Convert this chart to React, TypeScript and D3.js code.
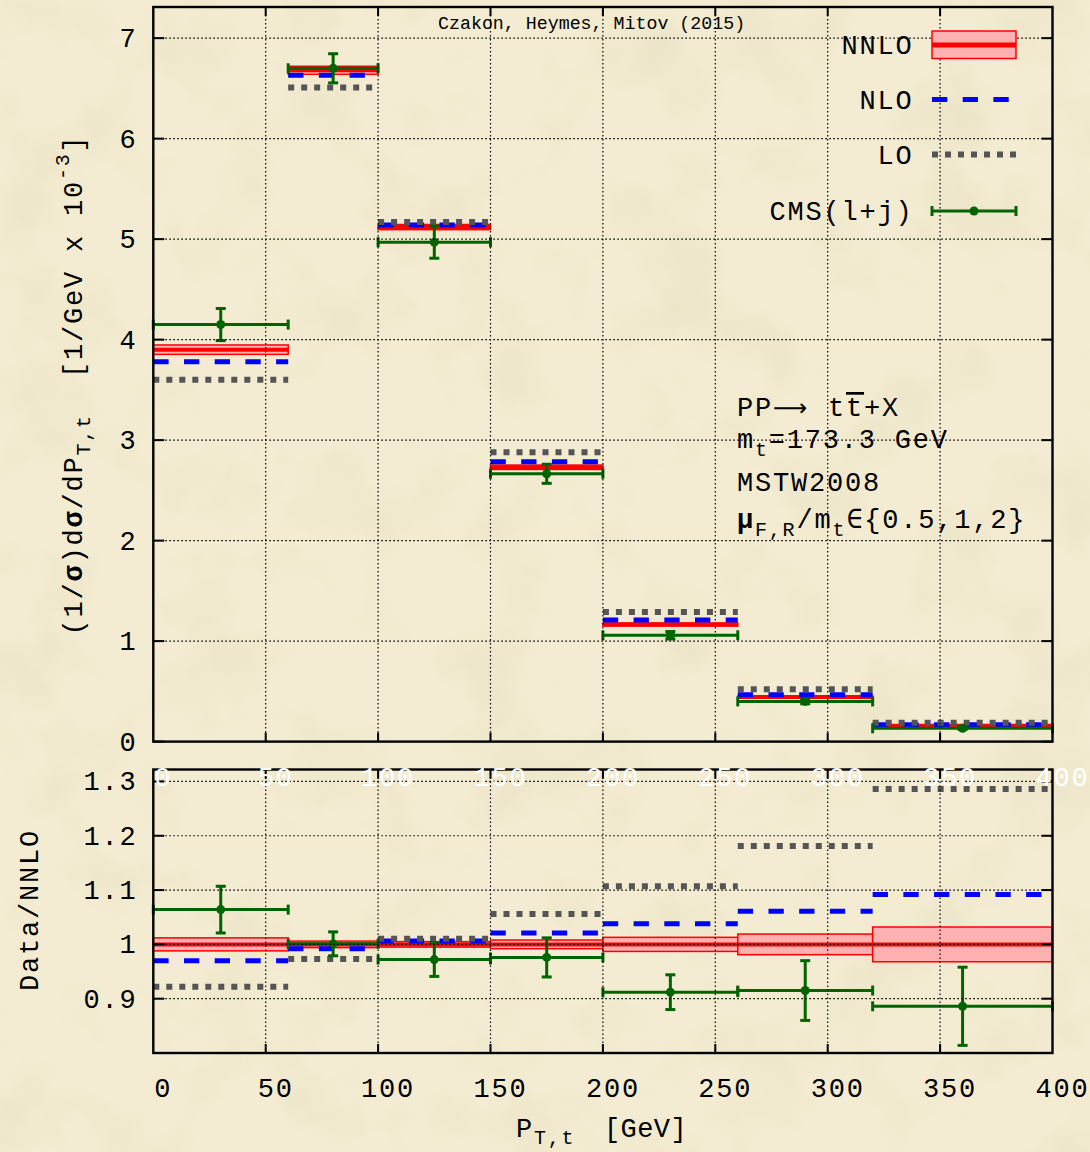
import React from "react";
import * as d3 from "d3";

// Bin edges of the top-quark transverse momentum distribution (GeV)
const binEdges = [0, 60, 100, 150, 200, 260, 320, 400];

// Normalised differential cross sections, in units of 1e-3 / GeV
const nnlo = [3.9, 6.68, 5.12, 2.73, 1.165, 0.445, 0.158];
const nlo = [3.78, 6.63, 5.14, 2.785, 1.21, 0.465, 0.168];
const lo = [3.6, 6.51, 5.17, 2.88, 1.29, 0.52, 0.188];
const cms = [4.15, 6.7, 4.97, 2.665, 1.058, 0.4, 0.132];
const cmsErr = [0.16, 0.145, 0.16, 0.095, 0.037, 0.024, 0.011];

// Relative scale uncertainty of the NNLO prediction
const nnloRelErr = [0.012, 0.006, 0.005, 0.008, 0.013, 0.019, 0.032];

// Ratios to NNLO
const nloRatio = [0.97, 0.992, 1.006, 1.021, 1.038, 1.061, 1.092];
const loRatio = [0.922, 0.973, 1.0105, 1.056, 1.107, 1.181, 1.286];
const cmsRatio = [1.064, 1.001, 0.972, 0.976, 0.912, 0.915, 0.886];
const cmsRatioErr = [0.043, 0.022, 0.031, 0.036, 0.032, 0.055, 0.072];

// Axis ticks
const xTicks = [0, 50, 100, 150, 200, 250, 300, 350, 400];
const yTicksTop = [0, 1, 2, 3, 4, 5, 6, 7];
const yTicksBottom = [0.9, 1.0, 1.1, 1.2, 1.3];
const yTickLabelsBottom = ["0.9", "1", "1.1", "1.2", "1.3"];

const legendLabels = ["NNLO", "NLO", "LO", "CMS(l+j)"];

const FONT = "'Liberation Mono', 'Courier New', monospace";
const RED = "#ff0000";
const PINK = "#ffb0b0";
const BLUE = "#0000ff";
const GREY = "#555555";
const GREEN = "#006400";
const BG = "#f3ecd2";

// main text style: 27px monospace spaced out to an 18px advance
const FS = 27;
const LS = 1.8;
const SUB = 20;

export default function App() {
  const W = 1090;
  const H = 1152;
  const x = d3.scaleLinear().domain([0, 400]).range([153.3, 1052.5]);
  const yT = d3.scaleLinear().domain([0, 7.31]).range([741.6, 7]);
  const yB = d3.scaleLinear().domain([0.8, 1.322]).range([1053, 769.5]);

  const bins = d3.range(nnlo.length).map((i) => ({
    i,
    x0: binEdges[i],
    x1: binEdges[i + 1],
    mid: (binEdges[i] + binEdges[i + 1]) / 2,
  }));

  const L = x(0);
  const R = x(400);

  const grid = (yScale: d3.ScaleLinear<number, number>, yTicks: number[]) => {
    const [yBottom, yTop] = yScale.range();
    return (
      <g stroke="#000" strokeWidth={1.2} strokeDasharray="1.6 2.4" fill="none">
        {xTicks.slice(1, -1).map((t) => (
          <line key={"gx" + t} x1={x(t)} x2={x(t)} y1={yTop} y2={yBottom} />
        ))}
        {yTicks.map((t) => (
          <line key={"gy" + t} x1={L} x2={R} y1={yScale(t)} y2={yScale(t)} />
        ))}
      </g>
    );
  };

  const frame = (yScale: d3.ScaleLinear<number, number>, yTicks: number[]) => {
    const [yBottom, yTop] = yScale.range();
    return (
      <g stroke="#000" strokeWidth={2} fill="none">
        {xTicks.slice(1, -1).map((t) => (
          <g key={"tx" + t}>
            <line x1={x(t)} x2={x(t)} y1={yBottom} y2={yBottom - 9} />
            <line x1={x(t)} x2={x(t)} y1={yTop} y2={yTop + 9} />
          </g>
        ))}
        {yTicks.map((t) => (
          <g key={"ty" + t}>
            <line x1={L} x2={L + 11} y1={yScale(t)} y2={yScale(t)} />
            <line x1={R} x2={R - 11} y1={yScale(t)} y2={yScale(t)} />
          </g>
        ))}
        <rect x={L} y={yTop} width={R - L} height={yBottom - yTop} strokeWidth={2.4} />
      </g>
    );
  };

  const errBar = (
    key: string,
    cx: number,
    cy: number,
    x0: number,
    x1: number,
    yLo: number,
    yHi: number
  ) => (
    <g key={key} stroke={GREEN} strokeWidth={3} fill={GREEN}>
      <line x1={x0} x2={x1} y1={cy} y2={cy} />
      <line x1={x0} x2={x0} y1={cy - 5} y2={cy + 5} />
      <line x1={x1} x2={x1} y1={cy - 5} y2={cy + 5} />
      <line x1={cx} x2={cx} y1={yLo} y2={yHi} />
      <line x1={cx - 5} x2={cx + 5} y1={yLo} y2={yLo} />
      <line x1={cx - 5} x2={cx + 5} y1={yHi} y2={yHi} />
      <circle cx={cx} cy={cy} r={4.5} stroke="none" />
    </g>
  );

  const legendRows = [45, 99.5, 154.5, 211];
  const lx0 = 932;
  const lx1 = 1016;

  return (
    <svg
      width={W}
      height={H}
      viewBox={`0 0 ${W} ${H}`}
      style={{ position: "absolute", left: 0, top: 0, display: "block" }}
      fontFamily={FONT}
    >
      <defs>
        <filter id="paper" x="0" y="0" width="100%" height="100%">
          <feTurbulence type="fractalNoise" baseFrequency="0.011" numOctaves={4} seed={7} />
          <feColorMatrix
            type="matrix"
            values="0 0 0 0 0.62  0 0 0 0 0.52  0 0 0 0 0.3  1.6 0 0 0 -0.78"
          />
        </filter>
      </defs>
      <rect x={0} y={0} width={W} height={H} fill={BG} />
      <rect x={0} y={0} width={W} height={H} filter="url(#paper)" opacity={0.25} />

      {/* ---------- upper panel ---------- */}
      <g>
        {bins.map((b) => {
          const v = nnlo[b.i];
          const e = v * nnloRelErr[b.i];
          return (
            <g key={"nnloT" + b.i}>
              <rect
                x={x(b.x0)}
                y={yT(v + e)}
                width={x(b.x1) - x(b.x0)}
                height={yT(v - e) - yT(v + e)}
                fill={PINK}
                stroke={RED}
                strokeWidth={1.5}
              />
              <line x1={x(b.x0)} x2={x(b.x1)} y1={yT(v)} y2={yT(v)} stroke={RED} strokeWidth={4} />
            </g>
          );
        })}
        {bins.map((b) => (
          <line
            key={"nloT" + b.i}
            x1={x(b.x0)}
            x2={x(b.x1)}
            y1={yT(nlo[b.i])}
            y2={yT(nlo[b.i])}
            stroke={BLUE}
            strokeWidth={5}
            strokeDasharray="15.3 15.4"
          />
        ))}
        {bins.map((b) => (
          <line
            key={"loT" + b.i}
            x1={x(b.x0)}
            x2={x(b.x1)}
            y1={yT(lo[b.i])}
            y2={yT(lo[b.i])}
            stroke={GREY}
            strokeWidth={6}
            strokeDasharray="6 7"
          />
        ))}
        {bins.map((b) =>
          errBar(
            "cmsT" + b.i,
            x(b.mid),
            yT(cms[b.i]),
            x(b.x0),
            x(b.x1),
            yT(cms[b.i] - cmsErr[b.i]),
            yT(cms[b.i] + cmsErr[b.i])
          )
        )}
        {grid(yT, yTicksTop.slice(1))}
        {frame(yT, yTicksTop)}
        {yTicksTop.map((t) => (
          <text
            key={"ylT" + t}
            x={137.5}
            y={yT(t) + 9}
            fontSize={FS}
            letterSpacing={LS}
            textAnchor="end"
            fill="#000"
          >
            {t}
          </text>
        ))}
        <text x={438} y={29} fontSize={18.3} fill="#000">
          Czakon, Heymes, Mitov (2015)
        </text>

        {/* legend */}
        {legendLabels.map((lab, k) => (
          <text
            key={"lg" + k}
            x={913.5}
            y={legendRows[k] + 9}
            fontSize={FS}
            letterSpacing={LS}
            textAnchor="end"
            fill="#000"
          >
            {lab}
          </text>
        ))}
        <rect x={lx0} y={31} width={lx1 - lx0} height={27.5} fill={PINK} stroke={RED} strokeWidth={1.5} />
        <line x1={lx0} x2={lx1} y1={legendRows[0]} y2={legendRows[0]} stroke={RED} strokeWidth={5} />
        <line
          x1={lx0}
          x2={lx1}
          y1={legendRows[1]}
          y2={legendRows[1]}
          stroke={BLUE}
          strokeWidth={5}
          strokeDasharray="15.3 15.4"
        />
        <line
          x1={lx0}
          x2={lx1}
          y1={legendRows[2]}
          y2={legendRows[2]}
          stroke={GREY}
          strokeWidth={6}
          strokeDasharray="6 7"
        />
        <g stroke={GREEN} strokeWidth={3} fill={GREEN}>
          <line x1={lx0} x2={lx1} y1={legendRows[3]} y2={legendRows[3]} />
          <line x1={lx0} x2={lx0} y1={legendRows[3] - 5} y2={legendRows[3] + 5} />
          <line x1={lx1} x2={lx1} y1={legendRows[3] - 5} y2={legendRows[3] + 5} />
          <circle cx={(lx0 + lx1) / 2} cy={legendRows[3]} r={4.5} stroke="none" />
        </g>

        {/* process description */}
        <g fontSize={FS} letterSpacing={LS} fill="#000">
          <text x={737} y={416}>
            PP
            <tspan fontFamily="'DejaVu Sans', sans-serif" fontSize={24} letterSpacing={0}>
              ⟶
            </tspan>
            <tspan x={828}>t</tspan>
            <tspan style={{ textDecoration: "overline" }}>t</tspan>+X
          </text>
          <text x={737} y={448}>
            m<tspan fontSize={SUB} dy={8}>t</tspan>
            <tspan dy={-8}>=173.3 GeV</tspan>
          </text>
          <text x={737} y={491}>
            MSTW2008
          </text>
          <text x={737} y={528}>
            <tspan fontWeight="bold">μ</tspan>
            <tspan fontSize={SUB} dy={8}>F,R</tspan>
            <tspan dy={-8}>/m</tspan>
            <tspan fontSize={SUB} dy={8}>t</tspan>
            <tspan dy={-8}>∈{"{"}0.5,1,2{"}"}</tspan>
          </text>
        </g>

        {/* y-axis title */}
        <text
          transform="translate(82,385) rotate(-90)"
          fontSize={FS}
          letterSpacing={LS}
          textAnchor="middle"
          fill="#000"
        >
          (1/<tspan fontWeight="bold">σ</tspan>)d<tspan fontWeight="bold">σ</tspan>/dP
          <tspan fontSize={SUB} dy={8}>T,t</tspan>
          <tspan dy={-8} xmlSpace="preserve">{"  [1/GeV x 10"}</tspan>
          <tspan fontSize={SUB} dy={-13}>-3</tspan>
          <tspan dy={13}>]</tspan>
        </text>
      </g>

      {/* ---------- ratio panel ---------- */}
      <g>
        {bins.map((b) => {
          const e = nnloRelErr[b.i];
          return (
            <g key={"nnloB" + b.i}>
              <rect
                x={x(b.x0)}
                y={yB(1 + e)}
                width={x(b.x1) - x(b.x0)}
                height={yB(1 - e) - yB(1 + e)}
                fill={PINK}
                stroke={RED}
                strokeWidth={1.5}
              />
              <line x1={x(b.x0)} x2={x(b.x1)} y1={yB(1)} y2={yB(1)} stroke={RED} strokeWidth={4} />
            </g>
          );
        })}
        {bins.map((b) => (
          <line
            key={"nloB" + b.i}
            x1={x(b.x0)}
            x2={x(b.x1)}
            y1={yB(nloRatio[b.i])}
            y2={yB(nloRatio[b.i])}
            stroke={BLUE}
            strokeWidth={5}
            strokeDasharray="15.3 15.4"
          />
        ))}
        {bins.map((b) => (
          <line
            key={"loB" + b.i}
            x1={x(b.x0)}
            x2={x(b.x1)}
            y1={yB(loRatio[b.i])}
            y2={yB(loRatio[b.i])}
            stroke={GREY}
            strokeWidth={6}
            strokeDasharray="6 7"
          />
        ))}
        {bins.map((b) =>
          errBar(
            "cmsB" + b.i,
            x(b.mid),
            yB(cmsRatio[b.i]),
            x(b.x0),
            x(b.x1),
            yB(cmsRatio[b.i] - cmsRatioErr[b.i]),
            yB(cmsRatio[b.i] + cmsRatioErr[b.i])
          )
        )}
        {grid(yB, yTicksBottom)}
        {frame(yB, yTicksBottom)}
        {yTicksBottom.map((t, k) => (
          <text
            key={"ylB" + k}
            x={137.5}
            y={yB(t) + 9}
            fontSize={FS}
            letterSpacing={LS}
            textAnchor="end"
            fill="#000"
          >
            {yTickLabelsBottom[k]}
          </text>
        ))}
        {/* hidden x labels of the upper panel */}
        {xTicks.map((t) => (
          <text
            key={"xw" + t}
            x={x(t) + 10}
            y={786}
            fontSize={FS}
            letterSpacing={LS}
            textAnchor="middle"
            fill="#ffffff"
          >
            {t}
          </text>
        ))}
        {xTicks.map((t) => (
          <text
            key={"xl" + t}
            x={x(t) + 10}
            y={1097}
            fontSize={FS}
            letterSpacing={LS}
            textAnchor="middle"
            fill="#000"
          >
            {t}
          </text>
        ))}
        <text x={516} y={1137} fontSize={FS} letterSpacing={LS} fill="#000">
          P<tspan fontSize={SUB} dy={7}>T,t</tspan>
          <tspan dy={-7} x={604} letterSpacing={0.4}>[GeV]</tspan>
        </text>
        <text
          transform="translate(38,910) rotate(-90)"
          fontSize={FS}
          letterSpacing={LS}
          textAnchor="middle"
          fill="#000"
        >
          Data/NNLO
        </text>
      </g>
    </svg>
  );
}
